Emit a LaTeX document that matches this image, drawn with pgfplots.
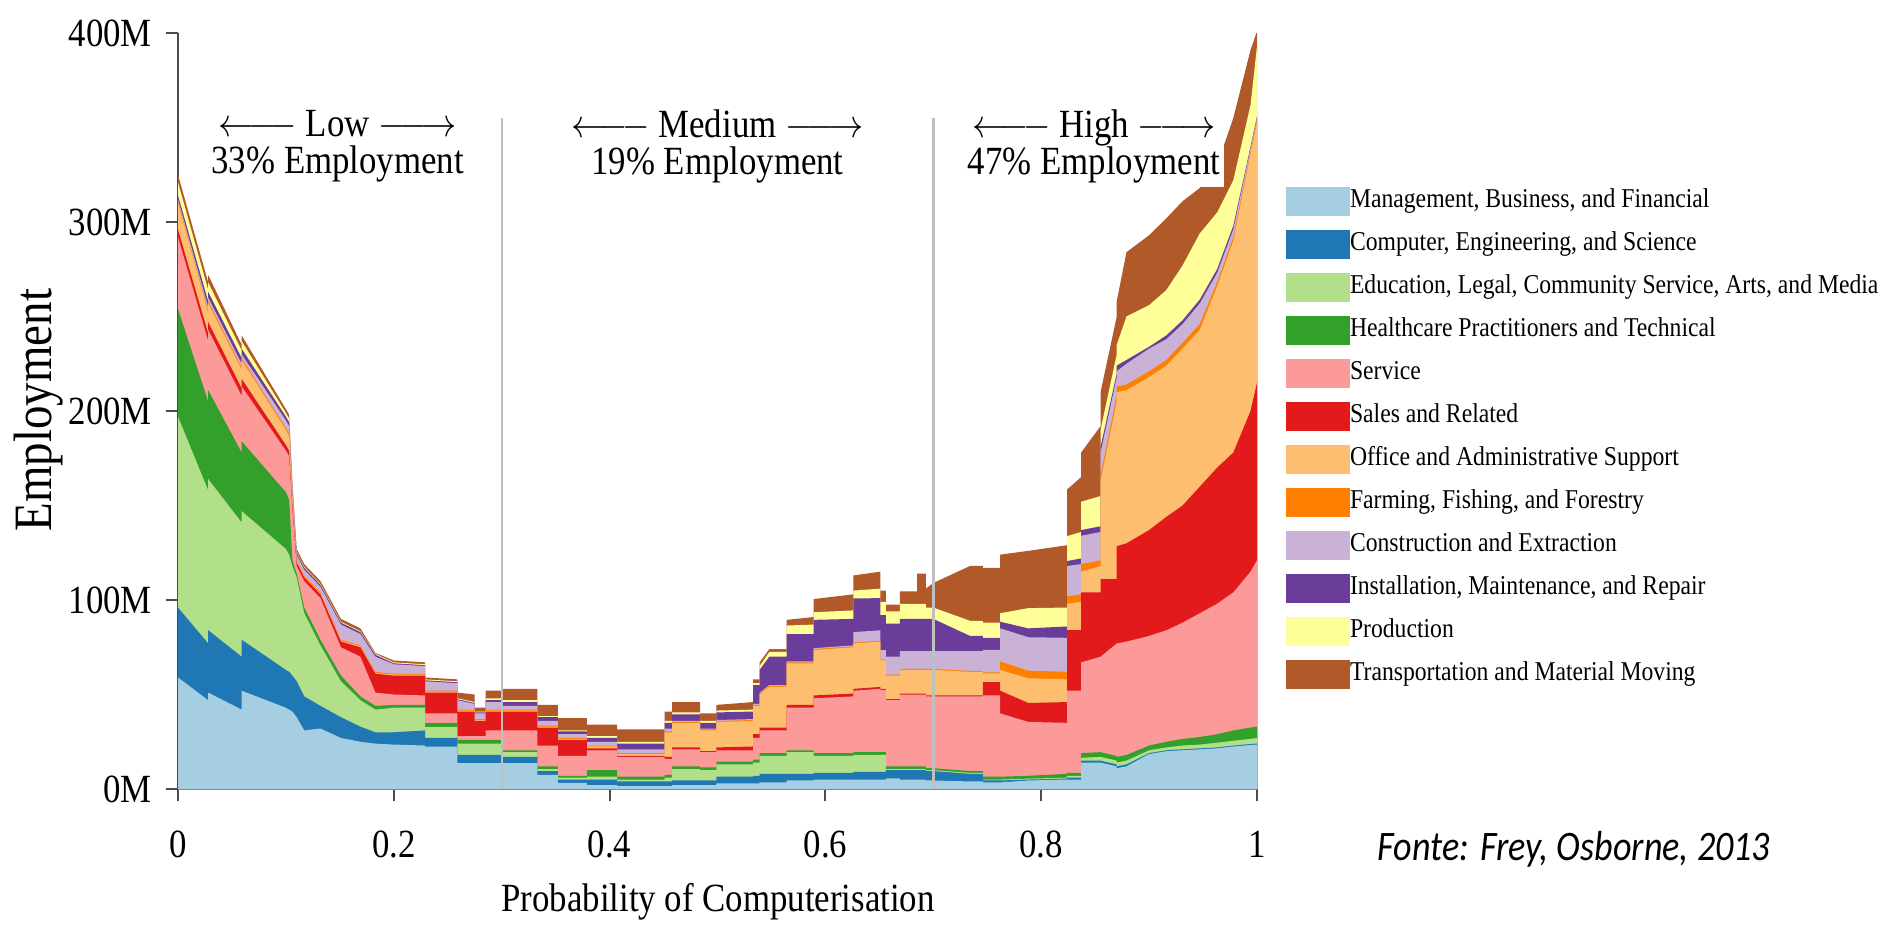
\documentclass[border=0pt]{standalone}
\usepackage{fontspec}
\setmainfont{Liberation Serif}[FakeStretch=0.87]
\newfontfamily\fontefont{Carlito}[FakeStretch=0.86]
\usepackage{graphicx}
\usepackage{pgfplots}
\usepackage{pgfplotstable}
\pgfplotsset{compat=1.18}

\definecolor{cMB}{HTML}{A6CEE3}
\definecolor{cCE}{HTML}{1F78B4}
\definecolor{cED}{HTML}{B2DF8A}
\definecolor{cHC}{HTML}{33A02C}
\definecolor{cSV}{HTML}{FB9A99}
\definecolor{cSR}{HTML}{E31A1C}
\definecolor{cOA}{HTML}{FDBF6F}
\definecolor{cFF}{HTML}{FF7F00}
\definecolor{cCX}{HTML}{CAB2D6}
\definecolor{cIM}{HTML}{6A3D9A}
\definecolor{cPR}{HTML}{FFFF99}
\definecolor{cTM}{HTML}{B15928}

% cumulative employment (millions): b1 = top of Management, ..., b12 = top of Transportation
\pgfplotstableread{
x      b1   b2   b3   b4   b5   b6   b7   b8   b9   b10  b11  b12
0.000  59   96   197  254  292  296  310  311  312  314  321  325
0.028  47   77   158  205  237  241  252  253  255  258  264  268
0.028  51   84   164  211  243  247  257  258  260  263  268  272
0.059  42   70   141  178  208  212  222  223  225  228  232  235
0.059  52   79   147  184  213  217  227  228  230  233  237  240
0.100  43   63   127  157  179  182  190  191  195  197  199  201
0.103  42   62   124  153  176  179  187  188  192  194  196  198
0.106  41   60   118  121  148  150  153  154  158  159  161  163
0.110  38   57   112  114  118  120  121  121.5 124 125  125.5 127
0.117  31   49   93   96   110  112  112.5 113  116  117  117.5 119
0.132  32   44   76   79   101  103  103.5 104  107  108  108.5 110
0.151  27   38   57   60   75   78   78.5 79   87   88   88.5 90
0.169  25   33   47   49   70   75   75.5 76   82   83   83.5 85
0.183  24   30   42   44   51   61   61.5 62   70   71   71.5 72
0.200  23.5 30   43   44.5 50   60   60.5 61   66   66.5 67   68
0.229  23   31   43   44.5 49.5 60   60.5 61   65   65.5 66   67
0.229  22.4 27   32.8 35   40   51   51.5 52   57   57.5 58   59
0.259  22.4 27   32.8 35   40   51   51.5 52   56   56.5 57   58
0.259  13.7 18   24   26   28   41   41.5 42   47   47.5 48   51
0.275  13.7 18   24   26   28   41   41.5 42   45   45.5 46   50
0.275  13.7 18   24   26   28   36   36.5 37   40   40.5 41   43
0.285  13.7 18   24   26   28   36   36.5 37   40   40.5 41   43
0.285  13.7 18   24   26   31   41   41.5 42   46   47   48   52
0.300  13.7 18   24   26   31   41   41.5 42   46   47   48   52
0.300  13.7 17   19.5 20.5 31   41   41.5 42   44   46   47   53
0.333  13.7 17   19.5 20.5 31   41   41.5 42   44   46   47   53
0.333  7.5  9.5  10.5 12   23   32.5 33   33.5 36   38   38.5 44.5
0.352  7.5  9.5  10.5 12   23   32.5 33   33.5 36   38   38.5 44.5
0.352  3.2  5    6    7    17.5 26   26.5 27   29   30.5 31   37.5
0.379  3.2  5    6    7    17.5 26   26.5 27   29   30.5 31   37.5
0.379  2    5    6.5  10   20.5 21.5 22.5 23   25   27   28   34
0.407  2    5    6.5  10   20.5 21.5 22.5 23   25   27   28   34
0.407  1.5  4    5    6.5  17   17.5 18.5 19   21   24   25   31.5
0.451  1.5  4    5    6.5  17   17.5 18.5 19   21   24   25   31.5
0.451  1.5  4    6    7.5  16   17   30   30.5 32   35   36   41
0.458  1.5  4    6    7.5  16   17   30   30.5 32   35   36   41
0.458  2    4.5  10.5 12   21   22   35   35.5 36   39.5 40.5 46
0.484  2    4.5  10.5 12   21   22   35   35.5 36   39.5 40.5 46
0.484  2    4.5  10   11.5 19.5 20   31   31.5 32   35   36   40
0.499  2    4.5  10   11.5 19.5 20   31   31.5 32   35   36   40
0.499  3    6.5  13   14.5 20.5 22   35.5 36   36.5 40.5 41.5 44.5
0.533  3    6.5  13   14.5 20.5 22.5 36   36.5 37   41   42   46
0.533  3    7    14   15.5 27   29   44   44.5 45   55   56   58
0.539  3    7    14   15.5 27   29   44   44.5 45   55   56   58
0.539  3.5  8    17.5 19   31   32.5 50   50.5 51   63   65   67
0.548  3.5  8    17.5 19   31   32.5 54   54.5 55   70   72.5 74
0.564  3.5  8    17.5 19   31   32.5 54   54.5 55   70   72.5 74
0.564  4.5  8    19.5 20.5 43   44.5 66.5 67   67.5 82   86.5 89.5
0.589  4.5  8    19.5 20.5 43   44.5 66.5 67   67.5 82   87   91
0.589  4.9  8.5  17.5 19   48   49.5 73.5 74   74.5 89.5 93.5 100.5
0.626  4.9  8.5  17.5 19   49   50.5 75   75.5 76   90   94.5 103
0.626  5    9    18   19.5 52   53   77   77.5 83   100.8 105 113
0.651  5    9    18   19.5 53   54   78   78.5 84   101  106  115
0.651  5    9    18   19.5 52.4 53   68   68.5 73.5 92   99   105
0.656  5    9    18   19.5 52.4 53   68   68.5 73.5 92   99   105
0.656  5.6  10   10.5 12   47   47.5 60   60.5 70   87.5 94   97.5
0.669  5.6  10   10.5 12   47   47.5 60   60.5 70   87.5 94   97.5
0.669  5    10   10.5 12   50   50.5 63   63.5 73   90   98   104.5
0.685  5    10   10.5 12   50   50.5 63   63.5 73   90   98   104.5
0.685  5    10   10.5 12   50   50.5 63   63.5 73   90   98   114
0.693  5    10   10.5 12   50   50.5 63   63.5 73   90   98   114
0.693  4.5  9.5  10   11   49   49.5 63   63.5 73   90   96   106
0.700  4.5  9.5  10   11   49   49.5 63   63.5 73   90   96   109
0.734  4    8    8.5  9.5  49   49.5 62   62.5 73   81   89   118
0.746  4    8    8.5  9.5  49   49.5 62   62.5 73   81   89   118
0.746  3.5  4.5  5    6.5  49.6 56.5 61.2 61.7 73.6 80 88   117
0.762  3.5  4.5  5    6.5  49.6 56.5 61.2 61.7 73.6 80 88   117
0.762  3.5  4.5  5    6.5  40   52   63   67.5 85   88.5 93   124
0.788  4.5  5    5.5  7    35.5 45.5 58.6 62.6 80.3 85 95.7 126
0.824  5    5.5  6    8    35   46   58   62   80   86   96   129
0.824  5    6    7    8.5  52   84   98   102  118  120.6 133.8 158.5
0.837  5    6    7    8.5  52   84   99   103  119  122  136  165
0.837  14   15   16.5 19   67   104  115  119  134  137  152  178
0.855  14   15   17   19.5 70   104  118  121  136  139  155  192
0.855  14   15   17   19.5 70   111  163  166  178  181  190  210
0.870  12   13   15   17.5 77   111  205  208  218  220  230  250
0.870  11   12   14   17   77   128.5 210 213  221  224  235  258
0.879  12   13   15   18   78   130  211  214  225  227  250  284
0.900  18.5 19   20.5 23   81   137  218  221  233  234  256  293
0.916  20   20.5 22   25   84   144  224  227  238  240  264  302
0.931  20.5 21   23   26.5 88   150  233  236  246  248  277  311
0.947  21   21.5 23.5 27.5 93   160  243  246  257  259  294  318
0.963  21.5 22   24.5 29   98   170  266  268  273  275  305  330
0.978  22.5 23   25.5 31   104  178  290  292  296  298  322  355
0.994  23.3 23.8 26.5 32.5 115  200  336  337  339  340  362  391
1.000  23.5 24   27   33   121  215  353  354  355  356  393  401
}\emp

\newcommand{\larr}{\scalebox{0.88}[1]{$\leftarrow\joinrel\relbar\joinrel\relbar$}}
\newcommand{\rarr}{\scalebox{0.88}[1]{$\relbar\joinrel\relbar\joinrel\rightarrow$}}

\begin{document}
\begin{tikzpicture}
\useasboundingbox (0,0) rectangle (473.25pt,232.75pt);
\begin{axis}[
  at={(44.5pt,35.5pt)}, anchor=south west,
  scale only axis, width=269.75pt, height=189pt,
  xmin=0, xmax=1, ymin=0, ymax=400,
  axis lines*=left,
  axis line style={black!70, line width=0.5pt},
  tick align=outside, major tick length=3pt,
  tick style={black!70, line width=0.5pt},
  xtick={0,0.2,0.4,0.6,0.8,1}, xticklabels={0,0.2,0.4,0.6,0.8,1},
  ytick={0,100,200,300,400}, yticklabels={0M,100M,200M,300M,400M},
  tick label style={font=\fontsize{10}{12}\selectfont},
  xticklabel style={yshift=-4pt},
  xlabel={Probability of Computerisation},
  ylabel={Employment},
  xlabel style={font=\fontsize{10}{12}\selectfont, at={(rel axis cs:0.5005,-0.1495)}, anchor=center},
  ylabel style={font=\fontsize{13.5}{15}\selectfont, at={(rel axis cs:-0.1288,0.501)}, anchor=center},
  legend style={at={(1.02688,0.7968)}, anchor=north west, draw=none, fill=none,
    inner sep=0pt, outer sep=0pt, row sep=3.5pt,
    font=\fontsize{6.8}{8}\selectfont, nodes={inner sep=0pt},
    /tikz/every even column/.append style={column sep=4.6pt}},
  legend cell align=left,
  legend image code/.code={\fill[#1] (0pt,-3.625pt) rectangle (16pt,3.625pt);},
]
\addplot[fill=cTM, draw=none, forget plot] table[x=x,y=b12]{\emp} \closedcycle;
\addplot[fill=cPR, draw=none, forget plot] table[x=x,y=b11]{\emp} \closedcycle;
\addplot[fill=cIM, draw=none, forget plot] table[x=x,y=b10]{\emp} \closedcycle;
\addplot[fill=cCX, draw=none, forget plot] table[x=x,y=b9]{\emp} \closedcycle;
\addplot[fill=cFF, draw=none, forget plot] table[x=x,y=b8]{\emp} \closedcycle;
\addplot[fill=cOA, draw=none, forget plot] table[x=x,y=b7]{\emp} \closedcycle;
\addplot[fill=cSR, draw=none, forget plot] table[x=x,y=b6]{\emp} \closedcycle;
\addplot[fill=cSV, draw=none, forget plot] table[x=x,y=b5]{\emp} \closedcycle;
\addplot[fill=cHC, draw=none, forget plot] table[x=x,y=b4]{\emp} \closedcycle;
\addplot[fill=cED, draw=none, forget plot] table[x=x,y=b3]{\emp} \closedcycle;
\addplot[fill=cCE, draw=none, forget plot] table[x=x,y=b2]{\emp} \closedcycle;
\addplot[fill=cMB, draw=none, forget plot] table[x=x,y=b1]{\emp} \closedcycle;
\addplot[black!25, line width=0.6pt, forget plot] coordinates {(0.3,0) (0.3,355)};
\addplot[black!25, line width=0.6pt, forget plot] coordinates {(0.7,0) (0.7,355)};

\addlegendimage{fill=cMB, draw=none}\addlegendentry{Management, Business, and Financial}
\addlegendimage{fill=cCE, draw=none}\addlegendentry{Computer, Engineering, and Science}
\addlegendimage{fill=cED, draw=none}\addlegendentry{Education, Legal, Community Service, Arts, and Media}
\addlegendimage{fill=cHC, draw=none}\addlegendentry{Healthcare Practitioners and Technical}
\addlegendimage{fill=cSV, draw=none}\addlegendentry{Service}
\addlegendimage{fill=cSR, draw=none}\addlegendentry{Sales and Related}
\addlegendimage{fill=cOA, draw=none}\addlegendentry{Office and Administrative Support}
\addlegendimage{fill=cFF, draw=none}\addlegendentry{Farming, Fishing, and Forestry}
\addlegendimage{fill=cCX, draw=none}\addlegendentry{Construction and Extraction}
\addlegendimage{fill=cIM, draw=none}\addlegendentry{Installation, Maintenance, and Repair}
\addlegendimage{fill=cPR, draw=none}\addlegendentry{Production}
\addlegendimage{fill=cTM, draw=none}\addlegendentry{Transportation and Material Moving}

\node[fill=white, inner sep=1pt, align=center, font=\fontsize{10}{9.2}\selectfont]
  at (axis cs:0.148,340) {\larr\ Low\ \rarr\\33\% Employment};
\node[fill=white, inner sep=1pt, align=center, font=\fontsize{10}{9.2}\selectfont]
  at (axis cs:0.5,340) {\larr\ Medium\ \rarr\\19\% Employment};
\node[fill=white, inner sep=1pt, align=center, font=\fontsize{10}{9.2}\selectfont]
  at (axis cs:0.849,340) {\larr\ High\ \rarr\\47\% Employment};
\end{axis}
\node[font=\fontefont\itshape\fontsize{10.5}{12}\selectfont] at (393.5pt,20.3pt) {Fonte: Frey, Osborne, 2013};
\end{tikzpicture}
\end{document}
